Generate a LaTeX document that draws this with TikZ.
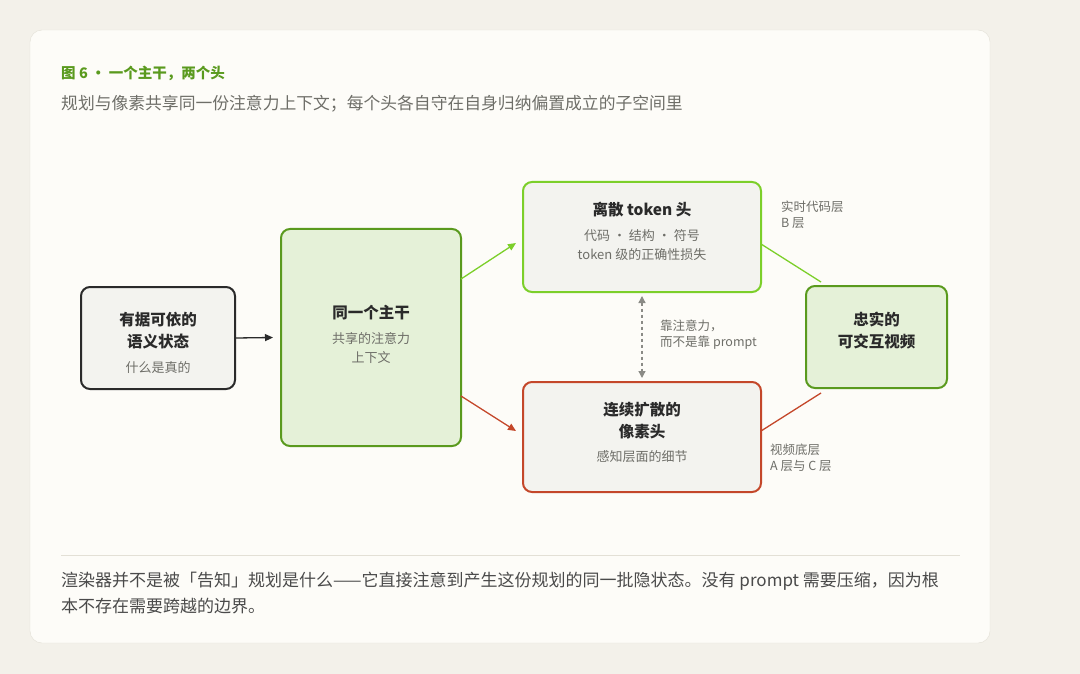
\documentclass[tikz,border=0pt]{standalone}
\usepackage{fontspec}
\setmainfont{Noto Sans CJK SC}
\usetikzlibrary{arrows.meta,calc}
\definecolor{bgout}{HTML}{F3F1EA}
\definecolor{card}{HTML}{FDFCF8}
\definecolor{cardline}{HTML}{E3E0D6}
\definecolor{ink}{HTML}{2A2A2A}
\definecolor{mute}{HTML}{6E6E68}
\definecolor{lime}{HTML}{7CCF2A}
\definecolor{leaf}{HTML}{5A9A1E}
\definecolor{rust}{HTML}{C4472A}
\definecolor{greyfill}{HTML}{F3F3EF}
\definecolor{greenfill}{HTML}{E5F1D8}
\tikzset{
  box/.style={draw, line width=2pt, rounded corners=9pt, fill=greyfill, align=center, inner sep=0pt},
  title/.style={font=\fontsize{15.5}{22}\selectfont\bfseries, text=ink},
  sub/.style={font=\fontsize{13}{19}\selectfont, text=mute},
  note/.style={font=\fontsize{12.5}{16}\selectfont, text=mute, align=left, anchor=north west, inner sep=0pt},
}
\begin{document}
\begin{tikzpicture}[x=1pt, y=-1pt]
	\fill[bgout] (0,0) rectangle (1080,674);
	\draw[cardline, fill=card, rounded corners=12pt] (30,30) rectangle (990,643);

	% titel
	\node[anchor=west, inner sep=0pt, text=leaf, font=\fontsize{14.5}{16}\selectfont\bfseries] (fig) at (61,73) {图 6 · 一个主干，两个头};
	\node[anchor=west, inner sep=0pt, text=mute, font=\fontsize{16.8}{18}\selectfont] (cap) at (61,104) {规划与像素共享同一份注意力上下文；每个头各自守在自身归纳偏置成立的子空间里};

	% boxen
	\node[box, draw=ink, minimum width=154pt, minimum height=102pt] (state) at (158,338) {};
	\node[title, align=center] at (158,331) {有据可依的\\语义状态};
	\node[sub] at (158,368) {什么是真的};
	\node[box, draw=leaf, fill=greenfill, minimum width=180pt, minimum height=217pt] (stem) at (371,337.5) {};
	\node[title] at (371,313) {同一个主干};
	\node[sub, align=center] at (371,348) {共享的注意力\\上下文};
	\node[box, draw=lime, minimum width=238pt, minimum height=110pt] (tok) at (642,237) {};
	\node[title] at (642,210) {离散 token 头};
	\node[sub, align=center] at (642,245) {代码 · 结构 · 符号\\token 级的正确性损失};
	\node[box, draw=rust, minimum width=238pt, minimum height=110pt] (pix) at (642,437) {};
	\node[title, align=center] at (642,421) {连续扩散的\\像素头};
	\node[sub] at (642,457) {感知层面的细节};
	\node[box, draw=leaf, fill=greenfill, minimum width=141pt, minimum height=102pt] (out) at (876.5,337) {};
	\node[title, align=center] at (876.5,331) {忠实的\\可交互视频};

	% pfeile
	\draw[ink, line width=1.3pt, -{Triangle[length=8pt,width=7pt]}] (state.east) -- ($(stem.west)+(-7,0)$);
	\draw[lime, line width=1.3pt, -{Triangle[length=8pt,width=7pt]}] (461,279) -- (516,243);
	\draw[rust, line width=1.3pt, -{Triangle[length=8pt,width=7pt]}] (461,396) -- (516,431);
	\draw[mute!80, line width=1.3pt, dashed, {Triangle[length=7pt,width=7pt]}-{Triangle[length=7pt,width=7pt]}] ($(tok.south)+(0,3)$) -- ($(pix.north)+(0,-3)$);
	\draw[lime, line width=1.3pt] (761,244) -- (821,282);
	\draw[rust, line width=1.3pt] (761,431) -- (821,393);

	% notizen
	\node[note] (bl) at (781,201) {实时代码层\\B 层};
	\node[note] (ac) at (770,444) {视频底层\\A 层与 C 层};
	\node[note] (att) at (660,320) {靠注意力，\\而不是靠 prompt};

	% fuss
	\draw[cardline, line width=1pt] (61,555) -- (960,555);
	\node[anchor=north west, inner sep=0pt, text=ink!85, align=left, font=\fontsize{17}{26}\selectfont] (foot) at (61,572)
	  {渲染器并不是被「告知」规划是什么——它直接注意到产生这份规划的同一批隐状态。没有 prompt 需要压缩，因为根\\本不存在需要跨越的边界。};
\end{tikzpicture}
\end{document}
